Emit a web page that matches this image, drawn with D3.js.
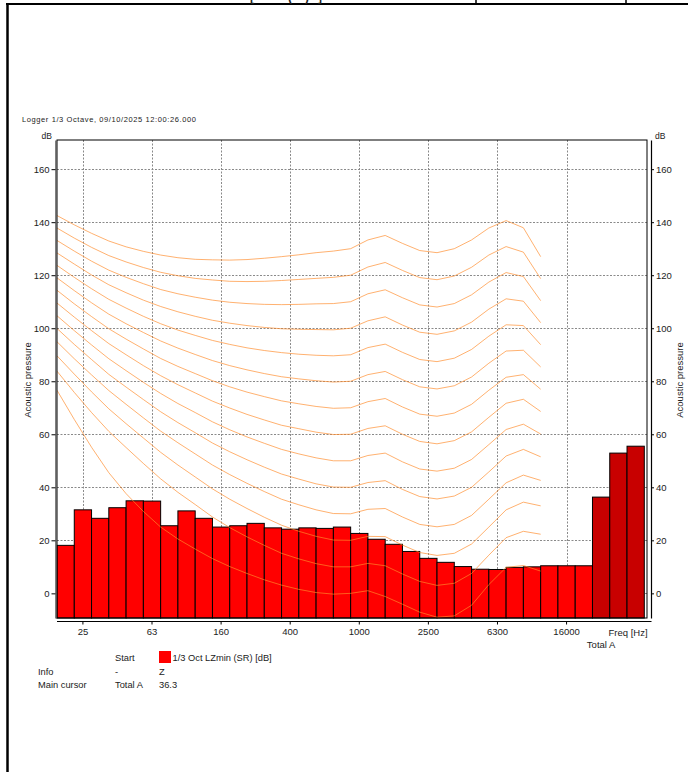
<!DOCTYPE html>
<html>
<head>
<meta charset="utf-8">
<script src="https://cdn.jsdelivr.net/npm/d3@7"></script>
<style>
  html, body { margin: 0; padding: 0; background: #fff; }
  svg { display: block; }
  text { font-family: "Liberation Sans", Arial, sans-serif; fill: #222; }
</style>
</head>
<body>
<svg id="chart" width="688" height="772"></svg>
<script>
// 1/3-octave bands plus the broadband totals
const bandLabels = ["20","25","31.5","40","50","63","80","100","125","160","200","250","315","400",
  "500","630","800","1000","1250","1600","2000","2500","3150","4000","5000","6300","8000","10000",
  "12500","16000","20000","Total A","Total C","Total Z"];
// LZmin per band [dB]
const bandLevels = [18.1,31.5,28.3,32.3,34.9,34.8,25.5,31.1,28.3,25.0,25.5,26.4,24.7,24.2,
  24.7,24.5,25.0,22.6,20.4,18.5,15.8,13.2,11.7,10.1,9.1,9.0,9.8,10.0,
  10.4,10.4,10.4,36.3,52.9,55.5];
const totalBands = ["Total A","Total C","Total Z"];

const xTickLabels = ["25","63","160","400","1000","2500","6300","16000"];
const yTicks = [0,20,40,60,80,100,120,140,160];

// Equal-loudness contours (ISO 226), 0..130 phon, 20 Hz..12.5 kHz
const contourFreqs = bandLabels.slice(0, 29);
const phonLevels = [0,10,20,30,40,50,60,70,80,90,100,110,120,130];
const phon0   = [76.6,65.6,55.1,45.5,37.6,30.9,25.0,20.5,16.7,13.1,10.1,7.5,5.1,3.1,1.5,0.3,-0.3,0.0,1.0,-1.2,-4.1,-7.1,-9.0,-8.5,-4.5,3.3,9.8,10.5,8.4];
const phon10  = [83.8,75.8,68.2,61.1,55.0,49.0,43.2,38.1,33.5,28.8,24.8,21.3,18.1,15.1,13.0,11.2,10.0,10.0,11.3,10.4,7.3,4.5,3.0,3.8,7.5,14.4,21.0,23.4,22.3];
const phon20  = [89.6,82.7,76.0,69.6,64.0,58.6,53.2,48.4,43.9,39.4,35.5,32.0,28.7,25.7,23.4,21.5,20.1,20.0,21.5,21.4,18.2,15.4,14.3,15.1,18.6,25.0,31.5,34.4,33.0];
const phon30  = [94.9,88.5,82.4,76.5,71.3,66.2,61.2,56.8,52.6,48.4,44.8,41.5,38.4,35.5,33.4,31.5,30.1,30.0,31.7,32.0,28.8,26.0,25.1,26.0,29.4,35.5,41.7,44.6,42.6];
const phon40  = [99.9,93.9,88.2,82.6,77.8,73.1,68.5,64.4,60.6,56.7,53.4,50.4,47.6,45.0,43.1,41.3,40.1,40.0,41.8,42.5,39.2,36.5,35.6,36.7,40.0,45.8,51.8,54.3,51.5];
const phon50  = [104.7,99.1,93.7,88.5,84.0,79.6,75.4,71.6,68.2,64.7,61.7,59.0,56.6,54.3,52.6,51.1,50.0,50.0,52.0,52.9,49.6,46.9,46.1,47.2,50.5,56.1,61.8,63.8,60.1];
const phon60  = [109.5,104.2,99.1,94.2,90.0,85.9,82.1,78.7,75.6,72.5,69.9,67.5,65.4,63.4,62.1,60.8,59.9,60.0,62.2,63.2,60.0,57.3,56.4,57.6,60.9,66.4,71.7,73.2,68.6];
const phon70  = [114.3,109.2,104.4,99.8,95.9,92.2,88.6,85.6,82.9,80.2,77.9,75.9,74.2,72.6,71.5,70.5,69.8,70.0,72.3,73.5,70.3,67.6,66.8,68.0,71.3,76.6,81.5,82.5,77.0];
const phon80  = [119.0,114.2,109.6,105.3,101.7,98.4,95.2,92.5,90.1,87.8,85.9,84.3,82.9,81.7,80.9,80.2,79.7,80.0,82.5,83.7,80.6,77.9,77.1,78.3,81.6,86.8,91.4,91.7,85.4];
const phon90  = [123.7,119.2,114.9,110.9,107.6,104.5,101.7,99.3,97.3,95.4,93.9,92.6,91.6,90.8,90.2,89.8,89.6,90.0,92.7,94.0,90.9,88.2,87.4,88.7,92.0,97.0,101.3,101.0,93.8];
const phon100 = [128.4,124.2,120.1,116.4,113.4,110.6,108.2,106.2,104.5,103.0,101.9,101.0,100.3,99.8,99.6,99.5,99.4,100.0,102.8,104.3,101.2,98.5,97.7,99.0,102.3,107.2,111.1,110.2,102.1];
const phon110 = [133.1,129.1,125.3,121.9,119.2,116.8,114.6,113.0,111.7,110.6,109.8,109.3,109.0,108.9,109.0,109.2,109.3,110.0,113.0,114.5,111.5,108.8,108.0,109.3,112.6,117.4,121.0,119.5,110.4];
const phon120 = [137.8,134.0,130.5,127.4,125.0,122.9,121.1,119.8,118.8,118.2,117.7,117.6,117.7,118.0,118.4,118.8,119.2,120.0,123.1,124.8,121.8,119.1,118.3,119.7,123.0,127.6,130.8,128.7,118.7];
const phon130 = [142.5,139.0,135.8,132.9,130.7,129.0,127.6,126.6,126.0,125.8,125.7,125.9,126.4,127.0,127.7,128.5,129.1,130.0,133.3,135.0,132.0,129.3,128.5,130.0,133.3,137.8,140.6,137.9,127.0];
const contours = [phon0,phon10,phon20,phon30,phon40,phon50,phon60,phon70,phon80,phon90,phon100,phon110,phon120,phon130];

const svg = d3.select("#chart");
const fs = 9.5;

// page frame
svg.append("line").attr("x1", 7.5).attr("x2", 7.5).attr("y1", 3).attr("y2", 772)
  .attr("stroke", "#000").attr("stroke-width", 2.5);
svg.append("line").attr("x1", 6).attr("x2", 688).attr("y1", 4).attr("y2", 4)
  .attr("stroke", "#000").attr("stroke-width", 2);
[476, 626].forEach(xv => svg.append("line").attr("x1", xv).attr("x2", xv)
  .attr("y1", 0).attr("y2", 4).attr("stroke", "#000").attr("stroke-width", 1.5));
[["[", 250], ["(", 288], [")", 305], ["]", 318]].forEach(([c, xv]) =>
  svg.append("text").attr("x", xv).attr("y", 0.5).attr("font-size", 12).attr("font-weight", "bold").text(c));

// title
svg.append("text").attr("x", 22).attr("y", 122).attr("font-size", 7.5)
  .attr("letter-spacing", 0.6).text("Logger 1/3 Octave, 09/10/2025 12:00:26.000");

const plotLeft = 57, plotRight = 647, plotTop = 140, plotBottom = 618;
const x = d3.scaleBand().domain(bandLabels).range([57, 644.3]).paddingInner(0).paddingOuter(0);
const y = d3.scaleLinear().domain([-9.3, 171]).range([plotBottom, plotTop]);
const bw = x.bandwidth();

// grid
const grid = svg.append("g").attr("stroke", "#8a8a8a").attr("stroke-width", 1)
  .attr("stroke-dasharray", "2,1.5");
yTicks.forEach(t => grid.append("line").attr("x1", plotLeft).attr("x2", plotRight)
  .attr("y1", Math.round(y(t)) + 0.5).attr("y2", Math.round(y(t)) + 0.5));
xTickLabels.forEach(t => grid.append("line")
  .attr("x1", Math.round(x(t) + bw / 2) + 0.5).attr("x2", Math.round(x(t) + bw / 2) + 0.5)
  .attr("y1", plotTop).attr("y2", plotBottom));

// bars
svg.append("g").selectAll("rect").data(bandLabels).join("rect")
  .attr("x", d => x(d)).attr("width", bw)
  .attr("y", (d, i) => y(bandLevels[i]))
  .attr("height", (d, i) => plotBottom - y(bandLevels[i]))
  .attr("fill", d => totalBands.includes(d) ? "#c80000" : "#ff0000")
  .attr("stroke", "#000").attr("stroke-width", 1);

// equal-loudness contours
svg.append("clipPath").attr("id", "plotClip").append("rect")
  .attr("x", plotLeft).attr("y", plotTop).attr("width", plotRight - plotLeft).attr("height", plotBottom - plotTop);
const line = d3.line().x((v, i) => x(contourFreqs[i])).y(v => y(v));
svg.append("g").attr("clip-path", "url(#plotClip)").selectAll("path").data(contours).join("path")
  .attr("d", line).attr("fill", "none")
  .attr("stroke", "#ff8a2a").attr("stroke-opacity", 0.75).attr("stroke-width", 0.9);

// plot frame
svg.append("rect").attr("x", plotLeft).attr("y", plotTop).attr("width", plotRight - plotLeft).attr("height", plotBottom - plotTop)
  .attr("fill", "none").attr("stroke", "#000").attr("stroke-width", 1);

// left axis
const yl = svg.append("g").attr("transform", "translate(55.5,0)")
  .call(d3.axisLeft(y).tickValues(yTicks).tickSize(4).tickSizeOuter(0).tickPadding(2));
yl.select(".domain").attr("stroke", "#555").attr("stroke-width", 1.5);
yl.selectAll("text").attr("font-size", fs).attr("font-family", "Liberation Sans, Arial, sans-serif").attr("fill", "#222");

// right axis
const yr = svg.append("g").attr("transform", "translate(651,0)")
  .call(d3.axisRight(y).tickValues(yTicks).tickSize(3).tickSizeOuter(0).tickPadding(2));
yr.select(".domain").attr("stroke", "#000").attr("stroke-width", 1.2);
yr.selectAll("text").attr("font-size", fs).attr("font-family", "Liberation Sans, Arial, sans-serif").attr("fill", "#222");

// bottom axis
const xb = svg.append("g").attr("transform", "translate(0,621.5)")
  .call(d3.axisBottom(x).tickValues(xTickLabels).tickSize(3).tickSizeOuter(0).tickPadding(4));
xb.select(".domain").remove();
xb.selectAll("text").attr("font-size", fs).attr("font-family", "Liberation Sans, Arial, sans-serif").attr("fill", "#222");
svg.append("line").attr("x1", plotLeft).attr("x2", 651.5).attr("y1", 621.5).attr("y2", 621.5)
  .attr("stroke", "#000").attr("stroke-width", 1);
svg.append("text").attr("x", 628).attr("y", 636).attr("text-anchor", "middle")
  .attr("font-size", fs).text("Freq [Hz]");
svg.append("text").attr("x", x("Total A") + bw / 2).attr("y", 648).attr("text-anchor", "middle")
  .attr("font-size", fs).text("Total A");

// unit labels
svg.append("text").attr("x", 52).attr("y", 139).attr("text-anchor", "end").attr("font-size", 8.5).text("dB");
svg.append("text").attr("x", 655).attr("y", 139).attr("font-size", 8.5).text("dB");
svg.append("text").attr("transform", "translate(31,380) rotate(-90)").attr("text-anchor", "middle")
  .attr("font-size", fs).text("Acoustic pressure");
svg.append("text").attr("transform", "translate(683,380) rotate(-90)").attr("text-anchor", "middle")
  .attr("font-size", fs).text("Acoustic pressure");

// legend / cursor table
const lg = svg.append("g").attr("font-size", 9.3);
lg.append("text").attr("x", 115).attr("y", 661).text("Start");
lg.append("rect").attr("x", 159).attr("y", 651).attr("width", 12).attr("height", 12).attr("fill", "#ff0000");
lg.append("text").attr("x", 172.5).attr("y", 661).text("1/3 Oct LZmin (SR) [dB]");
lg.append("text").attr("x", 38).attr("y", 674.5).text("Info");
lg.append("text").attr("x", 115).attr("y", 674.5).text("-");
lg.append("text").attr("x", 159).attr("y", 674.5).text("Z");
lg.append("text").attr("x", 38).attr("y", 688).text("Main cursor");
lg.append("text").attr("x", 115).attr("y", 688).text("Total A");
lg.append("text").attr("x", 159).attr("y", 688).text(d3.format(".1f")(bandLevels[bandLabels.indexOf("Total A")]));
</script>
</body>
</html>
